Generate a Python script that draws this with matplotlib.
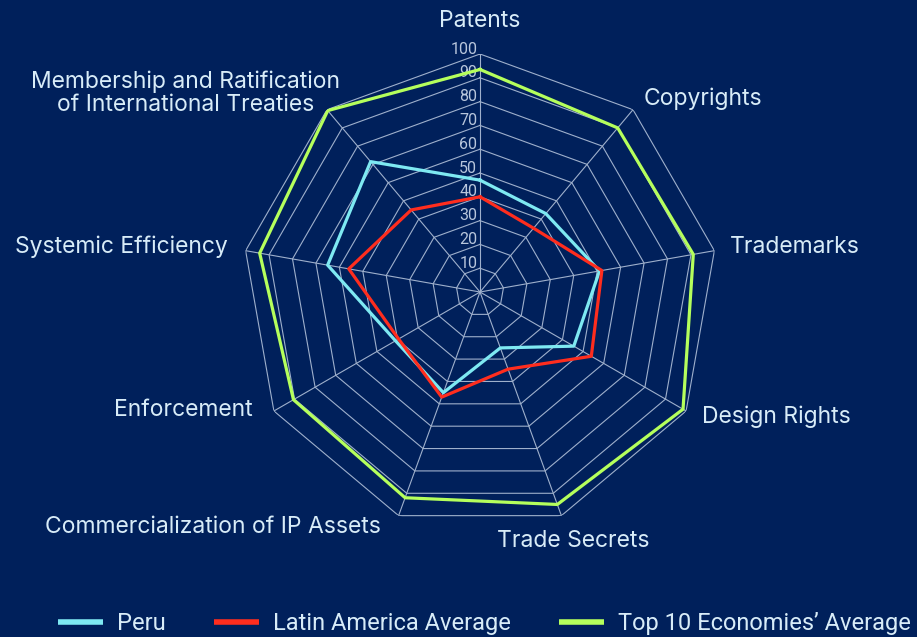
import numpy as np
import matplotlib
matplotlib.use("Agg")
import matplotlib.pyplot as plt

# categories, clockwise from the top
categories = ["Patents", "Copyrights", "Trademarks", "Design Rights", "Trade Secrets",
              "Commercialization of IP Assets", "Enforcement", "Systemic Efficiency",
              "Membership and Ratification\nof International Treaties"]
peru = [47, 43, 51, 45.5, 25, 45, 41, 65, 71.5]
latam = [40, 35, 52, 54, 34.5, 47, 39.5, 56, 45]
top10 = [93.5, 90, 91, 98.5, 95, 92, 90.5, 94, 99.5]
ticks = [10, 20, 30, 40, 50, 60, 70, 80, 90, 100]

# where each category label sits (angle in degrees, radius, alignment)
label_pos = [(0, 114, "center"), (40.4, 106.4, "left"), (79.8, 106.7, "left"),
             (119.3, 107, "left"), (159.5, 111.7, "center"), (202.8, 107, "right"),
             (242.6, 107.7, "right"), (280.1, 107.5, "right"), (324.9, 102, "right")]

bg = "#00205b"
grid_c = "#9fb0cc"
txt_c = "#d8ecf8"

fig = plt.figure(figsize=(9.17, 6.37), dpi=100, facecolor=bg)
ax = fig.add_axes([242/917, 107/637, 476/917, 476/637], projection="polar")
ax.set_theta_offset(np.pi/2)
ax.set_theta_direction(-1)
ax.set_ylim(0, 100)
ax.axis("off")

n = len(categories)
ang = np.linspace(0, 2*np.pi, n, endpoint=False)
ang_c = np.append(ang, ang[0])

# polygon grid
for r in ticks:
    ax.plot(ang_c, [r]*(n+1), color=grid_c, lw=0.8, zorder=1)
for a in ang:
    ax.plot([a, a], [0, 100], color=grid_c, lw=0.8, zorder=1)

# tick labels along the top spoke
for r in ticks:
    ax.annotate(str(r), xy=(0, r), xytext=(-2, 3.5), textcoords="offset points",
                ha="right", va="center", color="#b8c6dc", fontsize=11.5, family="Roboto")

series = [(peru, "Peru", "#7ee9f2"), (latam, "Latin America Average", "#ff2d1e"),
          (top10, "Top 10 Economies\u2019 Average", "#b5ff5c")]
for vals, name, col in series:
    ax.plot(ang_c, list(vals) + [vals[0]], color=col, lw=2.3, label=name, zorder=3)

# category labels
for lab, (deg, rr, ha) in zip(categories, label_pos):
    ax.text(np.deg2rad(deg), rr, lab, ha=ha, va="center", color=txt_c, fontsize=16.5,
            family="Inter", multialignment="center", linespacing=1.1)

leg = fig.legend(loc="lower left", bbox_to_anchor=(0.04, -0.03), ncol=3, frameon=False,
                 prop={"family": "Roboto", "size": 17}, labelcolor=txt_c,
                 handlelength=1.9, handletextpad=0.6, columnspacing=2.05)
for h in leg.legend_handles:
    h.set_linewidth(4)
    h.set_solid_capstyle("butt")

fig.savefig("out.png", dpi=100, facecolor=bg)
